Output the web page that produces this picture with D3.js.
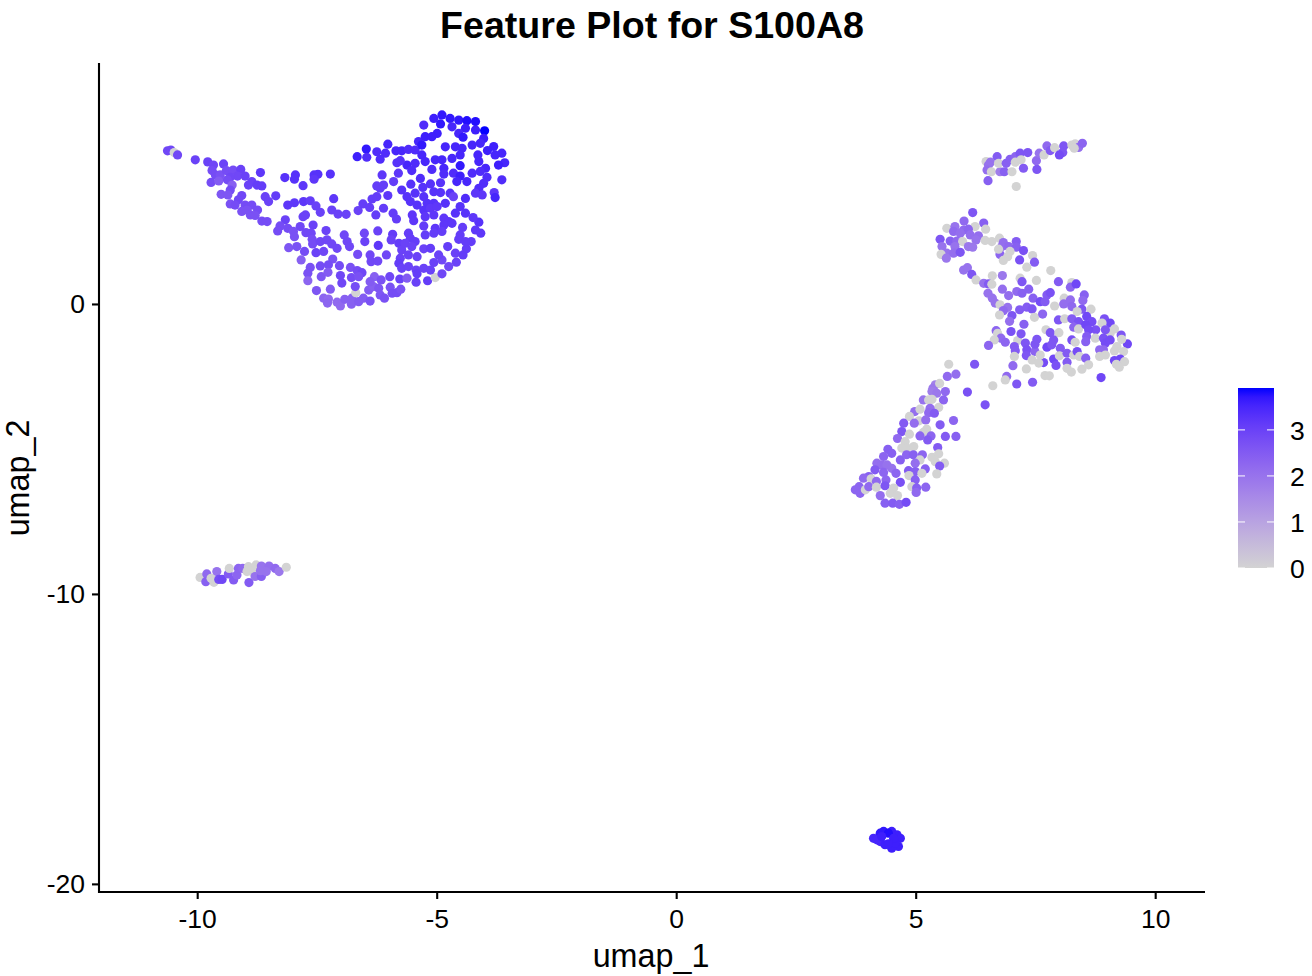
<!DOCTYPE html>
<html><head><meta charset="utf-8">
<script src="https://cdn.jsdelivr.net/npm/d3@7"></script>
<style>html,body{margin:0;background:#fff}svg{display:block}text{font-family:"Liberation Sans",Arial,sans-serif;fill:#000}</style>
</head><body><svg id="c" width="1312" height="976"></svg>
<script>
const xTicks=[-10,-5,0,5,10], yTicks=[-20,-10,0], legendTicks=[0,1,2,3];
const titleText="Feature Plot for S100A8", xLabel="umap_1", yLabel="umap_2";
const exprMax=3.91;
// each cell: [umap_1, umap_2, expression]
const tailCells=[[-10.62,5.28,2.9],[-10.55,5.31,2.9],[-10.48,5.22,0],[-10.41,5.14,2.9],[-10.04,4.97,3],[-9.78,4.9,3],[-9.66,4.79,2.9],[-9.45,4.83,3],[-9.69,4.6,2.8],[-9.62,4.45,2.8],[-9.52,4.45,2.7],[-9.39,4.6,2.8],[-9.25,4.62,2.8],[-9.09,4.64,3],[-9.16,4.41,2.9],[-9.31,4.37,2.9],[-9,4.41,3],[-8.68,4.53,3.2],[-9.71,4.19,2.8],[-9.55,4.24,2.5],[-9.37,4.28,2.8],[-9.27,4.1,2.4],[-8.86,4.22,3],[-8.93,4.1,3],[-8.75,4.1,3.1],[-8.65,4.07,3.1],[-9.31,3.93,2.8],[-9.5,3.78,2.6],[-9.36,3.76,2.6],[-9.07,3.74,2.9],[-9.14,3.59,2.9],[-8.58,3.7,3],[-8.36,3.73,3.1],[-8.51,3.53,3],[-9.31,3.45,2.7],[-9.21,3.41,2.8],[-9,3.41,2.8],[-8.86,3.41,2.8],[-9.07,3.19,2.7],[-8.96,3.24,2.7],[-8.74,3.24,2.8],[-8.89,3.07,2.7],[-8.79,3.05,2.7],[-8.65,2.86,2.8],[-8.54,2.84,2.8]];
const bridgeCells=[[-8.17,4.36,3.3],[-7.95,4.45,3.3],[-7.97,4.3,3.3],[-7.56,4.45,3.3],[-7.48,4.47,3.3],[-7.56,4.3,3.2],[-7.22,4.48,3.3],[-7.79,4.08,3.2],[-7.15,3.63,3.2],[-8.11,3.41,3.2],[-7.97,3.49,3.2],[-7.78,3.53,3.2],[-7.64,3.56,3.1],[-7.52,3.38,3],[-7.43,3.16,3],[-7.19,3.24,3],[-7.06,3.1,3],[-6.89,3.09,3],[-6.64,3.22,3],[-6.54,3.45,3.1],[-6.4,3.33,3.1],[-6.35,3.62,3.1],[-6.25,3.7,3.1],[-6.11,3.3,3.1],[-6.27,3.07,3.1],[-6.02,3.74,3.2],[-6.18,3.99,3.1],[-6.25,4.07,3.1],[-6.11,4.1,3.1],[-6.14,4.45,3.2],[-5.9,4.22,3.1],[-5.8,4.51,3.2],[-5.91,3.13,3.1],[-5.84,2.93,3.1]];
const arcCells=[[-8.16,2.9,3],[-8.27,2.69,2.8],[-8.32,2.52,2.8],[-8.11,2.61,2.8],[-7.99,2.5,2.7],[-7.85,2.67,2.9],[-7.79,3.01,3],[-7.74,3.07,3],[-7.58,2.72,3],[-7.73,2.46,2.9],[-7.62,2.44,2.9],[-7.97,2.32,2.7],[-7.6,2.23,2.8],[-7.59,2.07,2.8],[-8.09,1.94,2.6],[-7.92,1.98,2.7],[-7.76,1.81,2.8],[-7.52,1.77,3],[-7.36,1.81,2.9],[-7.43,2.15,2.9],[-7.31,2.53,3],[-7.29,2.21,2.9],[-7.19,2.07,2.9],[-7.08,1.92,2.9],[-6.93,2.38,2.9],[-6.87,2.15,2.9],[-6.82,1.98,2.9],[-6.51,2.44,2.9],[-6.23,2.52,3],[-6.5,2.15,3],[-6.22,2.02,3.2],[-6.65,1.71,2.8],[-6.39,1.69,2.9],[-6.37,1.46,2.9],[-6.23,1.48,2.9],[-6.05,1.69,2.9],[-7.83,1.52,2.4],[-7.17,1.55,2.7],[-7.26,1.35,2.8],[-7.64,1.26,2.7],[-7.43,1.31,2.8],[-7.69,1.06,2.7],[-7.69,0.8,2.3],[-7.41,0.94,2.6],[-7.27,1.09,2.5],[-7.03,1.32,2.8],[-6.8,1.26,2.7],[-6.66,1.15,2.8],[-6.56,1.08,2.9],[-6.78,0.91,2.8],[-7.01,0.98,2.9],[-6.98,0.72,2.9],[-6.63,0.94,2.7],[-7.51,0.46,2.6],[-7.22,0.51,2.5],[-7.36,0.2,2.3],[-7.26,0.17,2.2],[-7.28,0.03,2.3],[-7.08,0.06,2.2],[-7.01,-0.07,2.2],[-6.92,0.16,2.4],[-6.77,0.2,2.4],[-6.78,-0.01,2.4],[-6.69,0.39,0],[-6.7,0.6,2.8],[-6.53,0.2,2.5],[-6.63,0.08,2.5],[-6.39,0.1,2.7],[-6.42,0.48,2.5],[-6.32,0.6,2.4],[-6.3,0.94,2.4],[-6.39,0.77,2.5],[-6.16,0.83,2.7],[-6.21,0.54,2.6],[-6.18,0.31,2.6],[-6.09,0.2,2.7],[-5.98,0.94,2.9],[-5.97,0.58,2.7],[-5.93,0.37,2.8],[-5.83,0.39,2.8],[-5.75,0.51,2.7],[-5.77,0.86,3],[-5.62,0.89,2.5],[-5.43,0.75,3],[-5.19,0.8,3.1],[-5.03,0.91,0],[-4.89,1.04,2.9],[-4.75,1.29,2.9],[-5.06,1.43,3],[-4.89,1.52,2.9],[-4.96,1.69,3],[-4.59,1.44,3],[-4.61,1.75,3],[-4.45,1.69,3.1],[-4.38,1.9,3.1],[-4.77,1.98,3.1],[-4.28,2.15,3.1],[-4.46,2.64,3.1],[-4.19,2.55,3.2],[-4.08,2.44,3.2],[-4.12,2.82,3.3],[-4.24,2.98,3.2]];
const coreCells=[[-5.92,2.4,3.1],[-5.95,2.21,3],[-5.79,2.09,3.1],[-5.73,1.86,3],[-5.59,2.44,3.1],[-5.55,2.27,3.1],[-5.66,2.09,3],[-5.45,2.15,3.1],[-5.52,1.98,3],[-5.27,1.9,3],[-5.13,1.92,3.1],[-5.41,1.63,3],[-5.59,1.69,3],[-5.76,1.58,3],[-5.79,1.4,3.1],[-5.73,1.23,3],[-5.59,1.29,3],[-5.43,1.17,3],[-5.41,1.04,3.1],[-5.27,1.23,3],[-5.13,1.17,3]];
const crownCells=[[-6.47,5.34,3.7],[-6.66,5.08,3.6],[-6.46,5.06,3.4],[-6.25,5.25,3.4],[-6.07,5.2,3.4],[-6.18,4.99,3.4],[-6.02,5.51,3.5],[-5.85,5.28,3.5],[-5.73,5.28,3.5],[-5.59,5.33,3.4],[-5.45,5.31,3.4],[-5.83,4.87,3.3],[-5.62,4.79,3.5],[-5.76,4.94,3.3],[-5.45,4.85,3.4],[-5.52,4.6,3.4],[-5.31,5.14,3.5],[-5.24,4.91,3.5],[-5.03,4.97,3.5],[-4.89,4.97,3.5],[-5.1,4.64,3.4],[-4.85,4.68,3.5],[-4.85,4.48,3.4],[-5.38,5.6,3.5],[-5.24,5.77,3.6],[-5.27,6.17,3.4],[-5.06,6.4,3.6],[-4.89,6.52,3.7],[-4.72,6.4,3.7],[-4.92,6.21,3.7],[-4.68,6.11,3.5],[-4.54,6.34,3.7],[-4.37,6.32,3.8],[-4.19,6.29,3.8],[-4.4,6.06,3.6],[-4.54,5.88,3.5],[-4.19,6,3.6],[-4,5.97,3.9],[-4.02,5.71,3.6],[-4.45,5.75,3.7],[-4.99,5.88,3.6],[-5.1,5.77,3.6],[-5.31,5.48,3.7],[-4.82,5.42,3.5],[-4.61,5.42,3.5],[-4.47,5.37,3.5],[-4.26,5.48,3.5],[-4.09,5.54,3.5],[-3.81,5.43,3.6],[-3.94,5.29,3.6],[-3.64,5.2,3.5],[-3.78,5.14,3.5],[-3.58,4.87,3.5],[-3.71,4.79,3.6],[-4.14,5.14,3.5],[-4.68,5.02,3.5],[-4.51,5.14,3.5],[-4.12,4.91,3.5],[-3.98,4.68,3.5],[-4.51,4.77,3.7],[-4.26,4.51,3.4],[-4.65,4.51,3.4],[-4.51,4.41,3.6],[-4.09,4.57,3.4],[-3.95,4.37,3.4],[-3.64,4.28,3.4],[-4.58,4.22,3.5],[-4.37,4.22,3.5],[-4.02,4.16,3.4],[-4.12,3.99,3.4],[-3.8,3.84,3.2],[-3.78,3.67,3.5],[-4.19,3.82,3.2],[-4.05,3.76,3.2],[-4.92,4.18,3.3],[-5.13,4.14,3.3],[-5.29,4.02,3.3],[-5.34,4.33,3.4],[-5.54,4.13,3.3],[-5.73,3.93,3.3],[-5.62,3.7,3.3],[-5.45,3.82,3.3],[-5.27,3.7,3.3],[-5.06,3.87,3.3],[-4.92,3.84,3.3],[-4.72,3.82,3.3],[-4.65,3.7,3],[-4.4,3.64,3.4],[-5.55,3.53,3.3],[-5.41,3.41,3.3],[-5.2,3.47,3.3],[-5.06,3.47,3.3],[-4.82,3.47,3.3],[-5.27,3.24,3.3],[-5.13,3.3,3.2],[-4.99,3.36,3.2],[-4.51,3.36,3.3],[-5.24,3.01,3.2],[-5.06,3.07,3.2],[-4.61,3.13,3.3],[-4.4,3.13,3.3],[-4.85,2.96,3.2],[-5.51,3.07,3.2],[-5.48,2.87,3.2],[-5.27,2.69,3.1],[-4.75,2.84,3.2],[-4.85,2.72,3.2],[-4.68,2.78,3.2],[-5.03,2.61,3.2],[-5.06,2.44,3.1],[-4.89,2.5,3.1],[-5.24,2.38,3.1],[-4.51,2.38,3.1],[-4.54,2.23,3.1],[-4.4,2.15,3.1]];
const streakCells=[[6.47,4.91,0],[6.7,5.08,2.5],[6.56,4.89,2],[6.52,4.79,2],[6.49,4.62,2.1],[6.58,4.56,0],[6.76,4.56,1.8],[6.85,4.56,2.4],[7.01,4.56,0],[6.73,4.85,0],[6.89,4.85,2.4],[6.97,4.99,2.4],[7.08,5.08,2.3],[7.18,5.2,2.6],[7.34,5.22,2.6],[7.08,4.89,0],[7.2,4.97,0],[7.25,4.68,2.5],[7.53,4.64,2.6],[6.51,4.25,2.4],[7.1,4.05,0],[7.52,4.94,2.2],[7.58,5.2,2],[7.68,5.14,0],[7.74,5.45,2.2],[7.81,5.29,2.5],[7.9,5.39,0],[8.09,5.45,2.6],[8.07,5.22,2.6],[8,5.14,2.8],[8.26,5.48,0],[8.33,5.52,0],[8.4,5.4,2.1],[8.48,5.54,2.3],[8.31,5.37,0]];
const knotCells=[[6.19,3.15,2.6],[6.01,2.86,2.2],[6.42,2.79,2.4],[5.65,2.61,0],[5.82,2.67,2],[6.24,2.67,0],[6.46,2.58,0],[5.79,2.5,2.2],[6,2.55,2.2],[6.1,2.58,2.3],[5.93,2.44,2.1],[6.14,2.38,2.1],[6.31,2.35,2.1],[5.51,2.23,2.6],[5.72,2.17,2.4],[5.86,2.17,2.2],[5.98,2.15,0],[6.26,2.21,2],[5.55,1.98,2],[5.82,1.98,2],[6.1,1.98,1.9],[6.19,1.96,1.9],[5.65,1.75,2],[5.79,1.75,2.1],[5.93,1.78,2.6],[5.53,1.71,0],[5.64,1.58,1.9],[6.45,2.19,0],[6.59,2.15,0],[6.75,2.27,0],[6.83,2.12,2.1],[6.8,1.98,2.1],[6.94,1.98,2.2],[7.1,2.15,2.5],[7.1,1.96,2.4],[6.76,1.71,2.3],[6.73,1.89,0],[6.97,1.81,0],[6.92,1.63,0],[6.83,1.5,0],[7.25,1.84,2.7],[7.17,1.52,2.7],[7.44,1.67,0],[7.48,1.44,2.5],[7.32,1.27,0],[7.82,1.15,0]];
const wingCells=[[6,1.17,2],[6.08,1.25,2],[6.17,1.02,2.6],[6.26,0.83,0],[6.6,0.97,0],[6.81,0.98,1.9],[6.42,0.71,2],[6.52,0.69,2.5],[6.59,0.68,0],[7.18,0.89,0],[7.22,0.77,2.6],[7.52,0.81,0],[7.98,0.77,2.5],[8.26,0.74,0],[8.23,0.58,2.3],[8.35,0.69,2.9],[6.51,0.37,2],[6.6,0.2,2],[6.66,0.03,2],[6.81,0.51,2.1],[6.94,0.29,2.1],[7.11,0.43,2.2],[7.22,0.37,2.4],[7.36,0.51,2.4],[7.45,0.2,2.4],[7.6,0.08,2.8],[7.74,0.31,2.5],[7.81,0.39,2.7],[7.7,0.08,2.5],[7.9,-0.07,0],[8.1,0.2,0],[8.09,0,2.1],[8.23,0.14,2.1],[8.26,-0.09,2.2],[8.52,0.31,2.4],[8.49,0.12,2.2],[8.47,-0.18,2.6],[8.37,-0.26,0],[8.66,-0.18,0],[6.76,-0.03,0],[6.92,-0.12,2],[6.83,-0.23,2.2],[6.75,-0.38,0],[7.01,-0.4,2.6],[6.96,-0.6,2.1],[7.17,-0.2,2.5],[7.32,-0.11,2.5],[7.43,-0.17,2.6],[7.48,-0.46,0],[7.65,-0.35,2.3],[7.26,-0.7,2.4],[6.68,-0.92,2.3],[6.71,-1.01,0],[7.98,-0.55,2.6],[8.11,-0.51,0],[8.26,-0.51,2.5],[8.4,-0.61,2.7],[8.57,-0.43,2.9],[8.68,-0.61,2.8],[8.3,-0.8,2.3],[8.4,-0.86,0],[8.55,-0.72,2.9],[8.76,-0.89,2.7],[8.61,-0.89,2.8],[8.94,-0.51,2.7],[9.06,-0.66,2.9],[8.89,-0.66,0],[9.15,-0.86,0],[9.06,-1.01,0],[8.96,-0.89,2.6],[9.29,-1.07,2.6],[9.42,-1.38,2.9],[9.3,-1.22,0],[8.57,-1.12,2.5],[8.75,-1.18,0],[8.55,-1.3,2.4],[8.92,-1.18,2.7],[8.96,-1.35,2.8],[9.06,-1.24,2.8],[8.84,-1.58,2.2],[8.92,-1.58,2.2],[9.2,-1.47,0],[9.15,-1.62,0],[9.34,-1.64,0],[8.84,-1.81,0],[8.96,-1.76,0],[9.15,-1.95,2.9],[9.27,-1.9,2.9],[9.36,-1.99,0],[9.19,-2.08,0],[9.25,-2.18,0],[6.99,-0.95,2.7],[6.78,-1.18,2.2],[6.87,-1.32,2.3],[6.64,-1.24,0],[6.52,-1.43,2.3],[7.13,-1.26,0],[7.2,-1.03,2.6],[7.29,-1.35,2.6],[7.06,-1.47,2.5],[7.08,-1.61,2.5],[7.32,-1.58,2.7],[7.49,-1.64,2.3],[7.53,-1.22,2.6],[7.49,-1.39,2.6],[7.72,-0.89,0],[7.81,-0.99,2.6],[7.99,-0.99,0],[7.88,-1.24,2.6],[7.74,-1.49,2.9],[7.84,-1.41,2.6],[8.02,-1.53,2.5],[8.26,-1.24,2.7],[8.33,-1.32,0],[7.88,-1.9,2.9],[8,-1.79,0],[8.16,-2.01,2.5],[7.93,-2.12,2.7],[7.67,-2.02,2.8],[7.06,-1.81,0],[7.31,-1.78,2.6],[7.43,-1.93,0],[7.6,-1.76,0],[7.57,-2.04,0],[8.16,-1.7,2.5],[8.3,-1.76,0],[8.37,-1.64,2.8],[8.42,-1.81,0],[8.55,-1.87,2.4],[8.61,-2.1,0],[8.47,-2.25,0],[8.16,-2.22,0],[8.25,-2.35,0],[8.87,-2.54,2.9],[7.03,-2.13,2.2],[7.31,-2.24,0],[6.9,-2.5,2.2],[6.87,-2.62,0],[7.11,-2.76,2.6],[7.44,-2.7,2.5],[7.7,-2.47,0],[7.79,-2.48,0],[6.23,-2.08,2.6],[5.69,-2.08,0],[5.84,-2.42,2.1],[5.66,-2.5,2.2],[6.61,-2.82,0],[6.08,-3.04,2.7],[6.45,-3.48,2.7]];
const columnCells=[[5.41,-2.79,1.7],[5.36,-2.91,1.9],[5.5,-2.74,0],[5.62,-3.02,2.2],[5.34,-3.02,1.8],[5.44,-3.08,1.9],[5.58,-3.31,2.3],[5.16,-3.31,2],[5.27,-3.31,0],[5.34,-3.29,0],[5.48,-3.57,0],[4.98,-3.71,2.1],[5.09,-3.63,0],[5.3,-3.6,2.1],[5.27,-3.75,2.2],[5.39,-3.77,2.5],[4.87,-3.88,0],[5.07,-4.03,0],[4.97,-4.11,2.1],[5.21,-4,2.1],[5.79,-4.02,2.3],[4.75,-4.11,2.5],[5.51,-4.17,2.5],[4.71,-4.4,2.6],[4.87,-4.49,0],[5.16,-4.43,0],[5.23,-4.32,0],[5.09,-4.55,2.3],[5.32,-4.55,2.3],[5.25,-4.69,2.5],[5.62,-4.57,2.5],[5.84,-4.57,2.4],[4.62,-4.64,2.2],[4.78,-4.75,0],[4.71,-4.97,0],[4.82,-4.97,0],[4.96,-4.92,0],[5.46,-4.95,2.5],[4.42,-5.01,2.4],[4.33,-5.26,2.3],[4.5,-5.15,2.4],[4.68,-5.38,2.4],[4.81,-5.2,2.3],[4.95,-5.2,2.4],[5.14,-5.2,2.3],[5.09,-5.38,0],[4.99,-5.49,2.1],[5.34,-5.29,0],[5.48,-5.17,0],[5.41,-5.44,0],[5.6,-5.49,0],[5.5,-5.59,2.5],[4.19,-5.49,2.1],[4.29,-5.55,2.1],[4.4,-5.55,2],[4.5,-5.67,2],[5.2,-5.69,2.4],[5.44,-5.86,0],[4.15,-5.72,2.5],[4.33,-5.81,2.3],[4.59,-5.84,2.3],[4.85,-5.75,2.5],[4.99,-5.78,2.4],[5.13,-5.84,0],[4.86,-5.92,0],[4.02,-5.95,2.4],[3.91,-6.01,2.2],[4.07,-6.03,0],[4.38,-6.07,2.3],[4.18,-6.12,2.2],[4.68,-6.15,2.7],[4.99,-6.07,2.4],[3.82,-6.3,2.3],[3.74,-6.41,2.3],[3.84,-6.53,2.3],[3.95,-6.41,0],[4.02,-6.3,2.2],[4.18,-6.32,0],[4.36,-6.27,2.6],[4.54,-6.35,0],[4.92,-6.3,0],[5.21,-6.32,2.3],[5.02,-6.35,2.4],[5.01,-6.5,2.2],[4.26,-6.61,2.1],[4.47,-6.53,0],[4.62,-6.61,0],[4.36,-6.87,2.4],[4.52,-6.87,2.5],[4.66,-6.91,2.4],[4.8,-6.84,2.8]];
const sliverCells=[[-9.94,-9.43,0],[-9.8,-9.31,2.2],[-9.82,-9.58,2.4],[-9.71,-9.46,0],[-9.59,-9.23,2],[-9.65,-9.6,0],[-9.55,-9.5,2.8],[-9.48,-9.5,2.9],[-9.35,-9.31,2.5],[-9.24,-9.52,2.5],[-9.33,-9.12,0],[-9.17,-9.35,2.3],[-9.14,-9.12,2.3],[-9.05,-9.12,2.2],[-8.93,-9.06,0],[-8.96,-9.23,0],[-8.86,-9.23,0],[-8.77,-9,0],[-8.92,-9.61,2.5],[-8.79,-9.4,2],[-8.66,-9.4,2.4],[-8.66,-9.04,2],[-8.5,-9.04,2.1],[-8.56,-9.23,2],[-8.68,-9.2,2],[-8.37,-9.12,2.2],[-8.29,-9.23,1.9],[-8.14,-9.08,0]];
const blobCells=[[4.12,-18.43,3.5],[4.26,-18.54,3.5],[4.33,-18.19,3.7],[4.36,-18.65,3.6],[4.5,-18.19,3.6],[4.61,-18.31,3.6],[4.68,-18.43,3.6],[4.64,-18.71,3.6],[4.5,-18.77,3.6],[4.26,-18.25,3.7],[4.19,-18.48,3.5],[4.43,-18.25,3.8],[4.57,-18.6,3.6],[4.29,-18.37,3.6],[4.54,-18.43,3.6],[4.43,-18.62,3.6]];

const svg=d3.select("#c");
const x=d3.scaleLinear().domain([-12.05,11.04]).range([99,1205]);
const y=d3.scaleLinear().domain([-20.28,8.31]).range([892,63]);
const color=d3.scaleLinear().domain([0,exprMax]).range(["#D3D3D3","#0000FF"]).interpolate(d3.interpolateLab);
const cells=[...tailCells,...bridgeCells,...arcCells,...coreCells,...crownCells,...streakCells,...knotCells,...wingCells,...columnCells,...sliverCells,...blobCells];
svg.append("g").selectAll("circle").data(cells).join("circle")
  .attr("cx",d=>x(d[0])).attr("cy",d=>y(d[1])).attr("r",4.6).attr("fill",d=>color(d[2]));

const ax=svg.append("g").attr("transform","translate(0,892)").call(d3.axisBottom(x).tickValues(xTicks).tickFormat(String).tickSize(7).tickPadding(10));
const ay=svg.append("g").attr("transform","translate(99,0)").call(d3.axisLeft(y).tickValues(yTicks).tickFormat(String).tickSize(7).tickPadding(7));
[ax,ay].forEach(g=>{g.selectAll("text").style("font-size","26.5px").attr("fill","#000").attr("font-family","Liberation Sans");
  g.select(".domain").attr("stroke","#000").attr("stroke-width",2.1);g.selectAll(".tick line").attr("stroke","#000").attr("stroke-width",2.1);});
ay.select(".domain").attr("d","M0,63V893");ax.select(".domain").attr("d","M98,0H1205");

svg.append("text").attr("x",652).attr("y",38).attr("text-anchor","middle").attr("font-weight","bold").style("font-size","37.6px").text(titleText);
svg.append("text").attr("x",651).attr("y",967).attr("text-anchor","middle").style("font-size","32.3px").text(xLabel);
svg.append("text").attr("transform","translate(29,478) rotate(-90)").attr("text-anchor","middle").style("font-size","32.3px").text(yLabel);

const lg=d3.scaleLinear().domain([0,exprMax]).range([568,388]);
const defs=svg.append("defs").append("linearGradient").attr("id","lgrad").attr("x1",0).attr("x2",0).attr("y1",1).attr("y2",0);
d3.range(0,1.0001,0.05).forEach(t=>defs.append("stop").attr("offset",t).attr("stop-color",color(t*exprMax)));
svg.append("rect").attr("x",1238).attr("y",388).attr("width",36).attr("height",180).attr("fill","url(#lgrad)");
const lt=svg.append("g").selectAll("g").data(legendTicks).join("g").attr("transform",d=>`translate(0,${lg(d)})`);
lt.append("line").attr("x1",1238).attr("x2",1245).attr("stroke","#fff").attr("stroke-width",1);
lt.append("line").attr("x1",1267).attr("x2",1274).attr("stroke","#fff").attr("stroke-width",1);
lt.append("text").attr("x",1290).attr("y",10).style("font-size","26.5px").text(d=>d);
</script></body></html>
